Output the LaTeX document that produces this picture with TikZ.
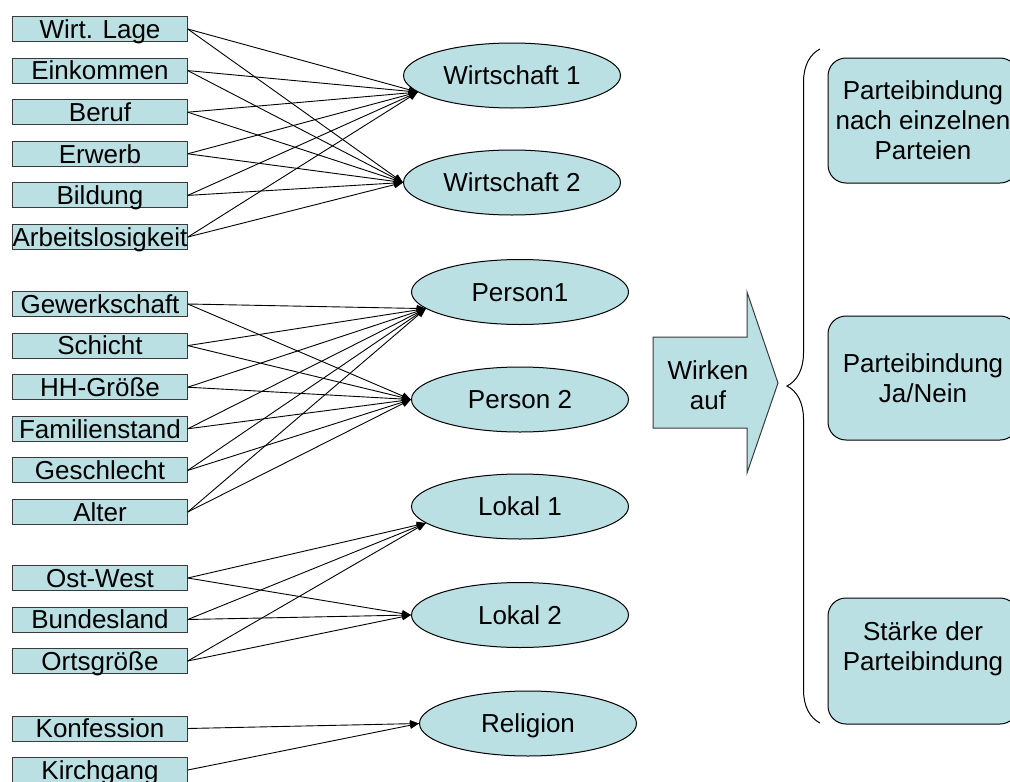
\documentclass[tikz,border=0pt]{standalone}
\usepackage{fontspec}
\setmainfont{Liberation Sans}
\usepackage{xcolor}
\definecolor{vizFill}{HTML}{BBE0E3}
\definecolor{vizLine}{HTML}{3A3A3A}
\usetikzlibrary{shapes.geometric,arrows.meta,decorations.pathreplacing}

\begin{document}
\begin{tikzpicture}[x=1pt,y=-1pt,
  every node/.style={font=\fontsize{26pt}{30pt}\selectfont},
  var/.style={draw=vizLine,fill=vizFill,line width=1pt,minimum width=174.5pt,minimum height=25pt,inner sep=0pt,text height=18.5pt,text depth=0pt},
  fac/.style={ellipse,draw=black,fill=vizFill,line width=1pt,minimum width=217pt,minimum height=65pt,inner sep=0pt,text height=18.5pt,text depth=0pt},
  res/.style={draw=black,fill=vizFill,line width=1pt,rounded corners=18pt,minimum width=190pt,align=center,inner sep=0pt},
  link/.style={line width=0.9pt,-{Triangle[length=9pt,width=7pt]}}]
  \useasboundingbox (0,0) rectangle (1010,782);
  \clip (0,0) rectangle (1010,782);

  \node[var] (wl) at (100,29) {Wirt. Lage};
  \node[var] (ek) at (100,70.6) {Einkommen};
  \node[var] (be) at (100,112.2) {Beruf};
  \node[var] (er) at (100,153.8) {Erwerb};
  \node[var] (bi) at (100,195.4) {Bildung};
  \node[var] (al) at (100,237) {Arbeitslosigkeit};

  \node[var] (gw) at (100,304) {Gewerkschaft};
  \node[var] (sc) at (100,345.6) {Schicht};
  \node[var] (hh) at (100,387.2) {HH-Größe};
  \node[var] (fs) at (100,428.8) {Familienstand};
  \node[var] (gs) at (100,470.4) {Geschlecht};
  \node[var] (at) at (100,512) {Alter};

  \node[var] (ow) at (100,578) {Ost-West};
  \node[var] (bl) at (100,619.5) {Bundesland};
  \node[var] (og) at (100,661) {Ortsgröße};

  \node[var] (kf) at (100,728.5) {Konfession};
  \node[var] (kg) at (100,770) {Kirchgang};

  \node[fac] (w1) at (512,75.5) {Wirtschaft 1};
  \node[fac] (w2) at (512,182.5) {Wirtschaft 2};
  \node[fac] (p1) at (520,292) {Person1};
  \node[fac] (p2) at (520,399.5) {Person 2};
  \node[fac] (l1) at (520,506.5) {Lokal 1};
  \node[fac] (l2) at (520,615) {Lokal 2};
  \node[fac] (rel) at (528,723.5) {Religion};

  \foreach \v in {wl,ek,be,er,bi,al} {
    \draw[link] (\v.east) -- (w1.190);
    \draw[link] (\v.east) -- (w2.west);
  }
  \foreach \v in {gw,sc,hh,fs,gs,at} {
    \draw[link] (\v.east) -- (p1.190);
    \draw[link] (\v.east) -- (p2.west);
  }
  \foreach \v in {ow,bl,og} {
    \draw[link] (\v.east) -- (l1.190);
    \draw[link] (\v.east) -- (l2.west);
  }
  \draw[link] (kf.east) -- (rel.west);
  \draw[link] (kg.east) -- (rel.west);

  \filldraw[fill=vizFill,draw=vizLine,line width=1pt] (653,337) -- (747,337) -- (747,292) -- (778,383) -- (747,473) -- (747,428) -- (653,428) -- cycle;
  \node[align=center] (wirken) at (708,385) {Wirken\\auf};

  \coordinate (bracelow) at (820,723);
  \coordinate (bracetop) at (820,49);
  \draw[line width=1pt,decorate,decoration={brace,amplitude=33pt}] (bracelow) -- (bracetop);

  \node[res,minimum height=125pt] (pe) at (923,120.5) {Parteibindung\\nach einzelnen\\Parteien};
  \node[res,minimum height=124pt] (pj) at (923,378) {Parteibindung\\Ja/Nein};
  \node[res,minimum height=126pt] (ps) at (923,661) {Stärke der\\Parteibindung\\\mbox{}};
\end{tikzpicture}
\end{document}
